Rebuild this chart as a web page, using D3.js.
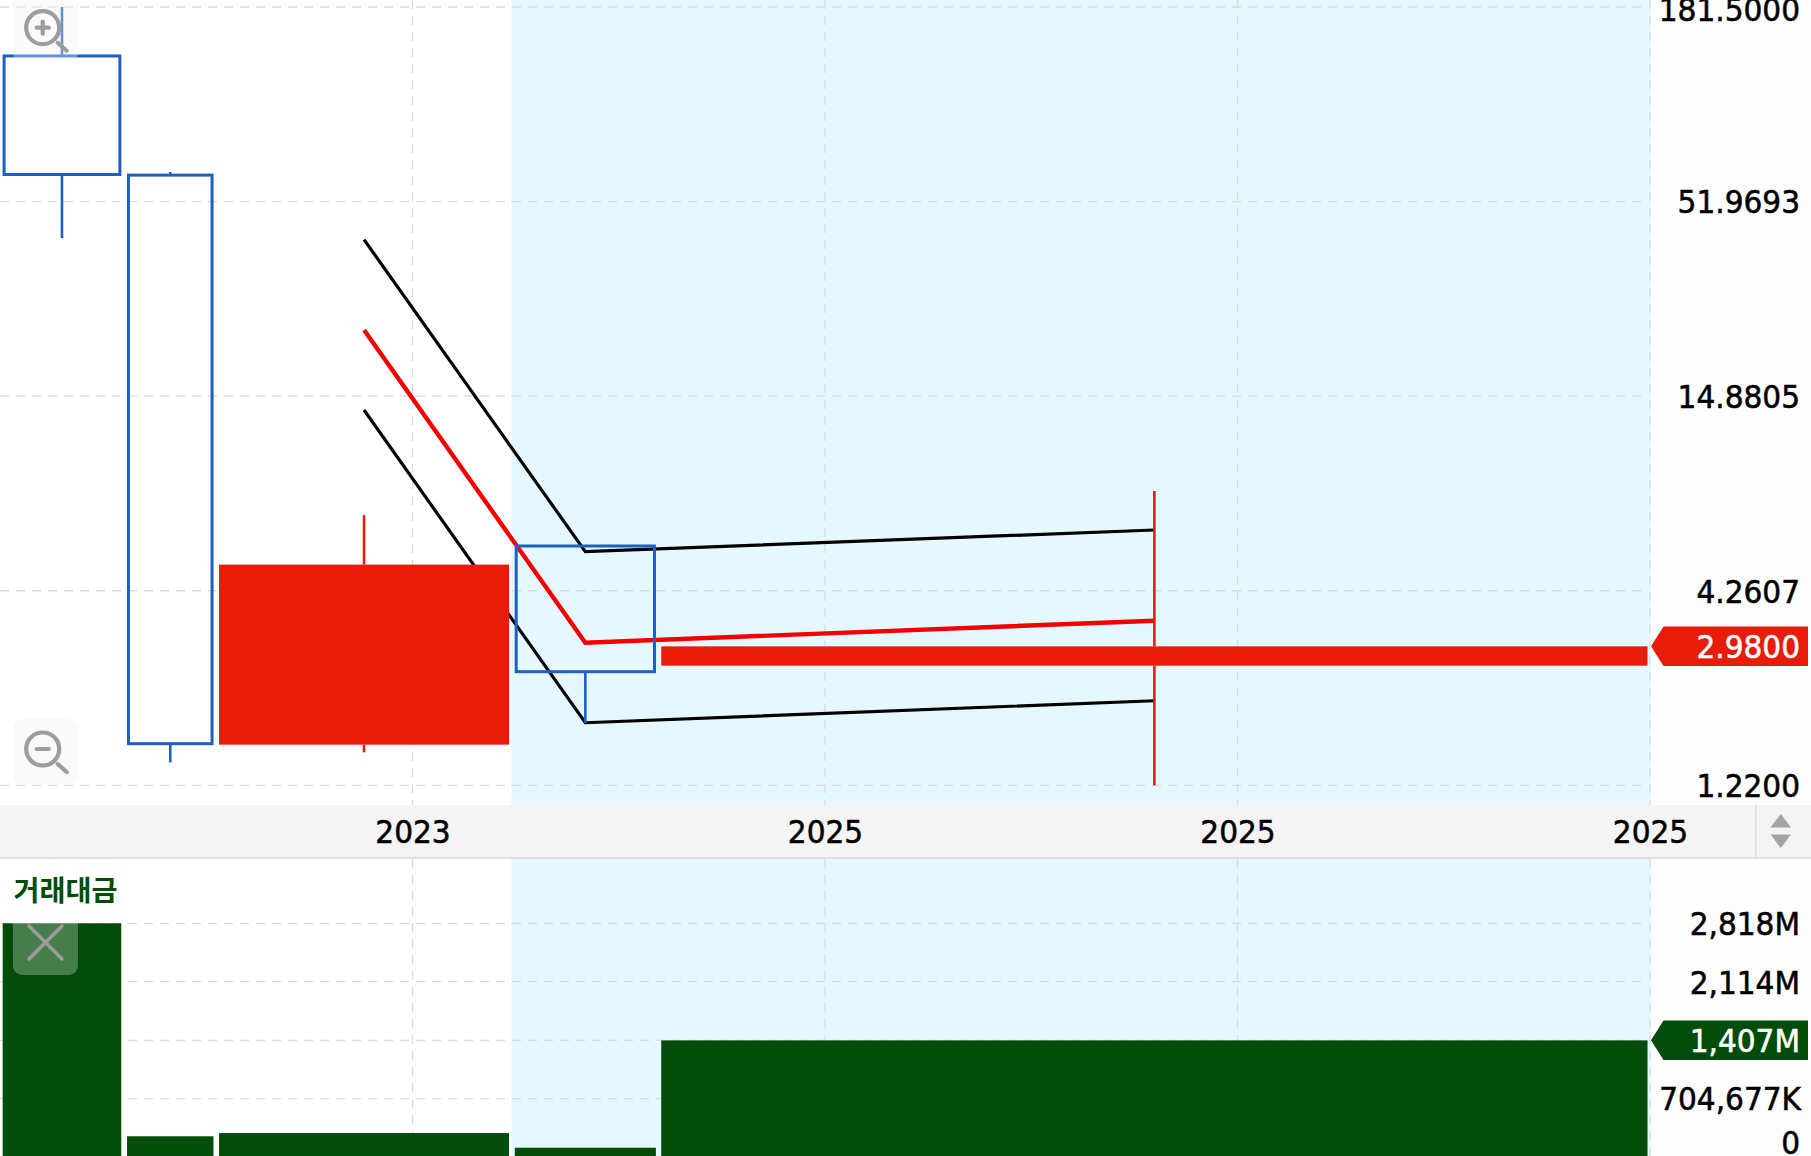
<!DOCTYPE html>
<html><head><meta charset="utf-8">
<script src="https://cdn.jsdelivr.net/npm/d3@7"></script>
<style>
html,body{margin:0;padding:0;background:#fff;overflow:hidden}
svg{display:block}
text{font-family:"DejaVu Sans",sans-serif}
</style></head><body><div id="c"></div>
<script>
// ---- data ----
const barStart = [0.65, 30.8, 53.1, 124.8, 160.3];
const barEnd   = [29.4, 51.75, 123.4, 159.0, 399.4];
const opens  = [61.85, 1.594, 5.04, 2.532, 2.632];
const closes = [132.5, 61.6, 1.584, 5.68, 2.98];
const highs  = [181.5, 62.85, 6.93, 5.68, 8.09];
const lows   = [41.1, 1.414, 1.508, 1.821, 1.22];
const turnover = [2818, 251, 290, 113, 1407];
const lineBars = [2, 3, 4];
const upperLine = [40.7, 5.475, 6.295];
const midLine   = [22.77, 3.05, 3.514];
const lowerLine = [13.61, 1.824, 2.101];
const priceTicks = [181.5, 51.9693, 14.8805, 4.2607, 1.22];
const priceLabels = ["181.5000","51.9693","14.8805","4.2607","1.2200"];
const turnoverTicks = [2818, 2114, 1407, 704.677, 0];
const turnoverLabels = ["2,818M","2,114M","1,407M","704,677K","0"];
const timeTicks = [100, 200, 300, 400];
const timeLabels = ["2023","2025","2025","2025"];
const bandRange = [124, 400.2];
const lastPrice = "2.9800", lastTurnover = "1,407M", panelTitle = "거래대금";

// ---- layout ----
const W = 1811, H = 1156, plotR = 1651;
const stripT = 805, stripB = 857, subT = 859;
const x = d3.scaleLinear().domain([0, 439.03]).range([0, W]);
const y = d3.scaleLog().domain([1.22, 181.5]).range([785.3, 7]);
const v = d3.scaleLinear().domain([0, 2818]).range([1157.1, 923.3]);
const BLUE = "#1f5fbf", RED = "#e71c0b", LINE_RED = "#f50000", GREEN = "#034d0a", BAND = "#e5f8ff", GRID = "#d9dcdd";
const FS = 31.5, SQUEEZE = 0.94;

const svg = d3.select("#c").append("svg").attr("width", W).attr("height", H);
svg.append("rect").attr("width", W).attr("height", H).attr("fill", "#fff");
svg.append("rect").attr("x", plotR).attr("width", W - plotR).attr("height", H).attr("fill", "#fdfdfd");

// band
[[0, stripT], [subT, H]].forEach(([a, b]) => svg.append("rect")
  .attr("x", x(bandRange[0]) ).attr("y", a)
  .attr("width", x(bandRange[1]) - x(bandRange[0])).attr("height", b - a).attr("fill", BAND));

// grid
const dash = "9,7";
const gridH = svg.append("g").attr("stroke", GRID).attr("stroke-width", 1.3).attr("stroke-dasharray", dash);
priceTicks.forEach(t => gridH.append("line").attr("x1", 0).attr("x2", 1646).attr("y1", y(t)).attr("y2", y(t)));
turnoverTicks.slice(0, 4).forEach(t => gridH.append("line").attr("x1", 0).attr("x2", 1646).attr("y1", v(t)).attr("y2", v(t)));
timeTicks.forEach(t => {
  gridH.append("line").attr("x1", x(t)).attr("x2", x(t)).attr("y1", 0).attr("y2", stripT);
  gridH.append("line").attr("x1", x(t)).attr("x2", x(t)).attr("y1", subT).attr("y2", H);
});

// envelope lines (under the candles)
const idx = d3.range(barStart.length);
const cx = i => (x(barStart[i]) + x(barEnd[i])) / 2;
const lineGen = d3.line().x((d, i) => cx(lineBars[i])).y(d => y(d));
[[upperLine, "#000", 3.2], [lowerLine, "#000", 3.2], [midLine, LINE_RED, 4.4]].forEach(([d, c, w]) =>
  svg.append("path").attr("d", lineGen(d)).attr("fill", "none").attr("stroke", c).attr("stroke-width", w));

// candles
const hollow = i => closes[i] >= opens[i] && i < 4;
const colour = i => hollow(i) ? BLUE : RED;
const candles = svg.append("g");
candles.selectAll("line.hi").data(idx).join("line").attr("class", "hi")
  .attr("x1", cx).attr("x2", cx)
  .attr("y1", i => y(highs[i])).attr("y2", i => y(Math.max(opens[i], closes[i])))
  .attr("stroke", colour).attr("stroke-width", 2.6);
candles.selectAll("line.lo").data(idx).join("line").attr("class", "lo")
  .attr("x1", cx).attr("x2", cx)
  .attr("y1", i => y(Math.min(opens[i], closes[i]))).attr("y2", i => y(lows[i]))
  .attr("stroke", colour).attr("stroke-width", 2.6);
candles.selectAll("rect").data(idx).join("rect")
  .attr("x", i => x(barStart[i]) + (hollow(i) ? 1.4 : 0))
  .attr("width", i => x(barEnd[i]) - x(barStart[i]) - (hollow(i) ? 2.8 : 0))
  .attr("y", i => y(Math.max(opens[i], closes[i])))
  .attr("height", i => y(Math.min(opens[i], closes[i])) - y(Math.max(opens[i], closes[i])))
  .attr("fill", i => hollow(i) ? "none" : RED)
  .attr("stroke", i => hollow(i) ? BLUE : "none")
  .attr("stroke-width", 3);

// turnover bars
svg.append("g").selectAll("rect").data(idx).join("rect")
  .attr("x", i => x(barStart[i])).attr("width", i => x(barEnd[i]) - x(barStart[i]))
  .attr("y", i => v(turnover[i])).attr("height", i => v(0) - v(turnover[i]))
  .attr("fill", GREEN);

// time strip
svg.append("rect").attr("y", stripT).attr("width", W).attr("height", stripB - stripT).attr("fill", "#f4f4f4");
svg.append("rect").attr("y", stripB).attr("width", W).attr("height", 2).attr("fill", "#dedede");
svg.append("rect").attr("x", 1755).attr("y", stripT).attr("width", 1.5).attr("height", stripB - stripT).attr("fill", "#dedede");
svg.append("path").attr("d", "M1770.5,827.5L1780.8,814L1791,827.5Z").attr("fill", "#a3a3a3");
svg.append("path").attr("d", "M1770.5,834.5L1791,834.5L1780.8,848Z").attr("fill", "#a3a3a3");

// text fitting: taller, narrower and slightly heavier than the plain face
function fit(sel, fill) {
  sel.attr("font-size", FS).attr("fill", fill).attr("stroke", fill).attr("stroke-width", 0.55)
    .attr("font-family", '"DejaVu Sans",sans-serif')
    .each(function () {
      const n = this.getComputedTextLength();
      this.setAttribute("textLength", n * SQUEEZE);
      this.setAttribute("lengthAdjust", "spacingAndGlyphs");
    });
}
function styleAxis(g) {
  g.select(".domain").remove();
  g.selectAll(".tick line").remove();
}
const xAxis = d3.axisBottom(x).tickValues(timeTicks).tickSize(0).tickPadding(0)
  .tickFormat((d, i) => timeLabels[i]);
const xg0 = svg.append("g").attr("transform", `translate(0,${stripT + 16})`).call(xAxis).call(styleAxis);
fit(xg0.selectAll("text"), "#000");

const rightX = 1800;
const yAxis = d3.axisRight(y).tickValues(priceTicks).tickSize(0).tickPadding(0)
  .tickFormat((d, i) => priceLabels[i]);
const yg = svg.append("g").attr("transform", `translate(${rightX},0)`).call(yAxis).call(styleAxis);
yg.selectAll("text").attr("text-anchor", "end").attr("dy", "0.36em").attr("y", (d, i) => i === 0 ? 2 : 0);
fit(yg.selectAll("text"), "#000");

const vAxis = d3.axisRight(v).tickValues(turnoverTicks).tickSize(0).tickPadding(0)
  .tickFormat((d, i) => turnoverLabels[i]);
const vg = svg.append("g").attr("transform", `translate(${rightX},0)`).call(vAxis).call(styleAxis);
vg.selectAll("text").attr("text-anchor", "end").attr("dy", "0.36em")
  .attr("dx", (d, i) => i === 3 ? 1 : 0)
  .attr("y", (d, i) => i === 3 ? 0 : i === 4 ? -15 : 0);
vg.selectAll(".tick").filter((d, i) => i === 2).remove();
fit(vg.selectAll("text"), "#000");

// value tags
function tag(yPos, fill, label) {
  const h = 39.5, top = yPos - h / 2;
  svg.append("path")
    .attr("d", `M1651,${yPos}L1663.5,${top}L${W - 3},${top}L${W - 3},${top + h}L1663.5,${top + h}Z`)
    .attr("fill", fill);
  const t = svg.append("text").attr("x", rightX).attr("y", yPos).attr("dy", "0.36em")
    .attr("text-anchor", "end").text(label);
  fit(t, "#fff");
}
tag(y(closes[4]), RED, lastPrice);
tag(v(turnover[4]), GREEN, lastTurnover);

// panel title
svg.append("text").attr("x", 13.5).attr("y", 901).attr("font-size", 28.5).attr("font-weight", 700)
  .style("font-family", '"Noto Sans CJK KR"').attr("fill", GREEN)
  .attr("textLength", 104).attr("lengthAdjust", "spacingAndGlyphs").text(panelTitle);

// floating buttons
const ICON = "#9d9d9d";
function btn(yTop, h, fill) {
  svg.append("rect").attr("x", 13).attr("y", yTop).attr("width", 65).attr("height", h).attr("rx", 9).attr("fill", fill);
}
btn(-4, 66, "rgba(240,240,240,0.35)");
btn(719, 65, "rgba(240,240,240,0.35)");
btn(910, 65, "rgba(255,255,255,0.27)");
function zoomIcon(cxp, cyp, plus) {
  const g = svg.append("g").attr("fill", "none").attr("stroke", ICON).attr("stroke-linecap", "round");
  g.append("circle").attr("cx", cxp).attr("cy", cyp).attr("r", 16.5).attr("stroke-width", 4.2);
  g.append("line").attr("x1", cxp + 15).attr("y1", cyp + 15).attr("x2", cxp + 24).attr("y2", cyp + 23).attr("stroke-width", 4.2);
  g.append("line").attr("x1", cxp - 6).attr("x2", cxp + 6).attr("y1", cyp).attr("y2", cyp).attr("stroke-width", 4.2);
  if (plus) g.append("line").attr("x1", cxp).attr("x2", cxp).attr("y1", cyp - 6).attr("y2", cyp + 6).attr("stroke-width", 4.2);
}
zoomIcon(42.7, 27.7, true);
zoomIcon(42.7, 749, false);
const xg = svg.append("g").attr("stroke", ICON).attr("stroke-width", 3.5).attr("stroke-linecap", "round");
xg.append("line").attr("x1", 29).attr("y1", 926).attr("x2", 62).attr("y2", 959);
xg.append("line").attr("x1", 62).attr("y1", 926).attr("x2", 29).attr("y2", 959);
</script></body></html>
